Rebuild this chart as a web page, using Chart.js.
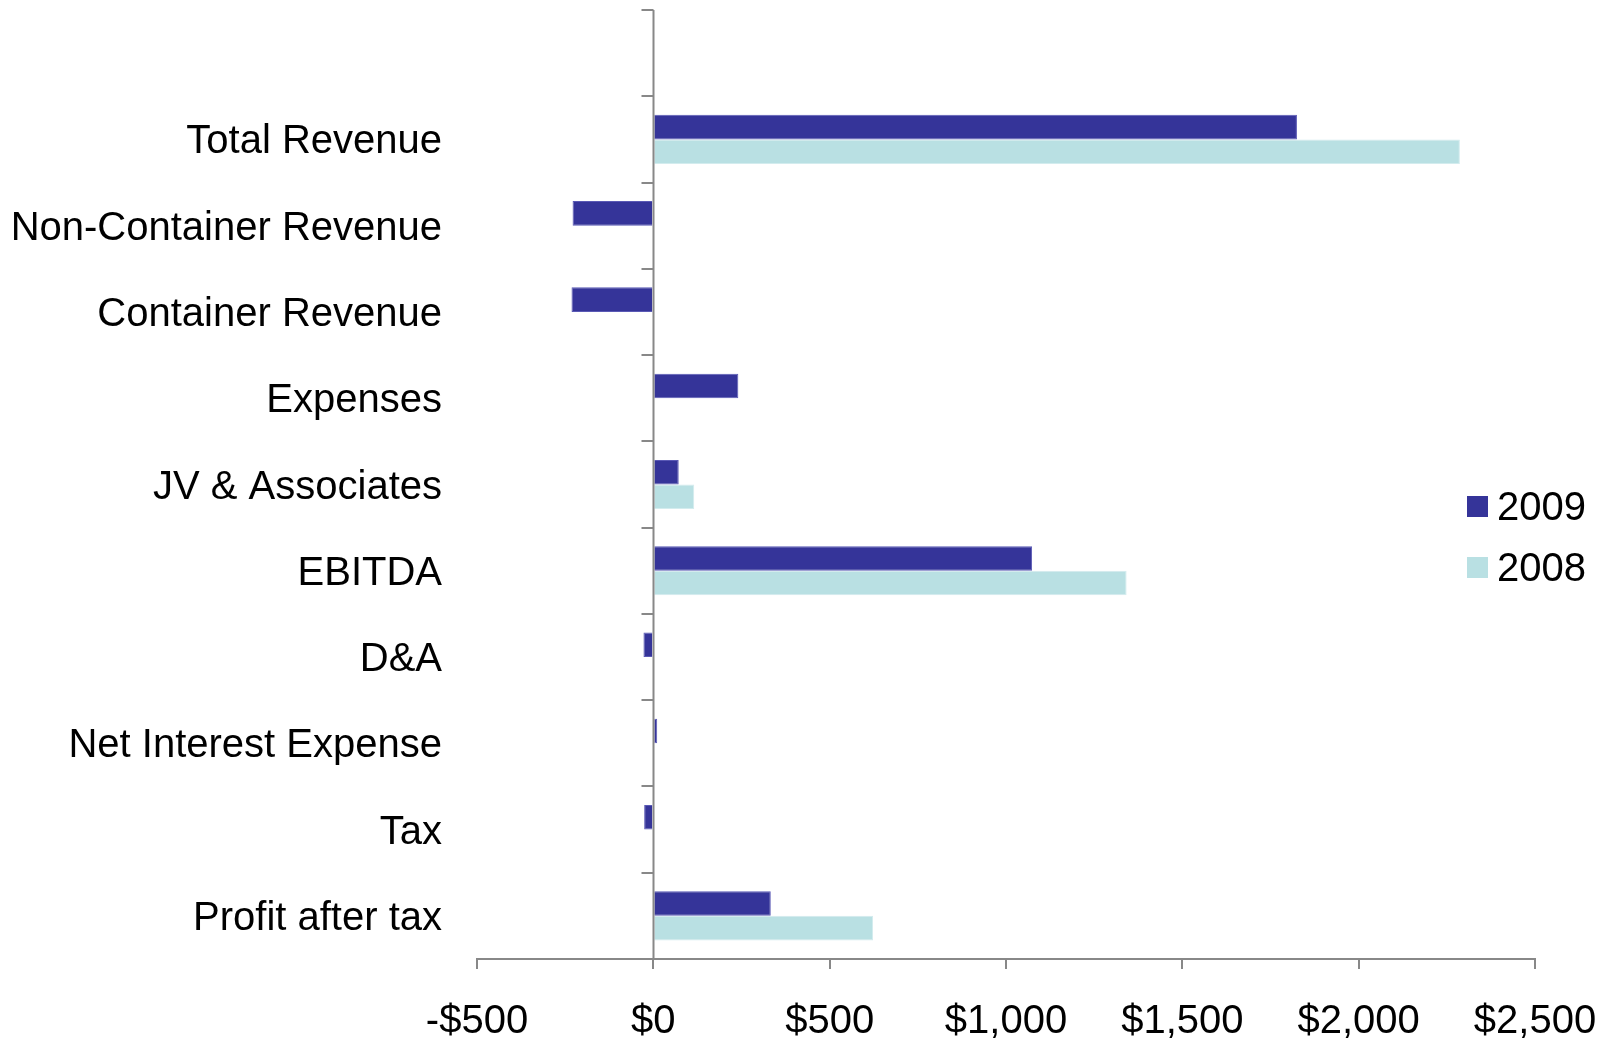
<!DOCTYPE html>
<html>
<head>
<meta charset="utf-8">
<title>Earnings bridge 2009 vs 2008</title>
<script src="https://cdn.jsdelivr.net/npm/chart.js@4.4.1/dist/chart.umd.min.js"></script>
<style>
  html, body { margin: 0; padding: 0; background: #ffffff; }
  #wrap { position: relative; width: 1612px; height: 1040px; }
  #chart { position: absolute; left: 0; top: 0; }
  #legend { position: absolute; left: 1467px; top: 476px; font-family: "Liberation Sans", Arial, sans-serif; font-size: 40px; color: #000; }
  .item { display: flex; align-items: center; height: 61px; }
  .swatch { width: 21px; height: 21px; margin-right: 9px; }
</style>
</head>
<body>
<div id="wrap">
  <canvas id="chart" width="1612" height="1040"></canvas>
  <div id="legend"></div>
</div>
<script>
// Line items, top to bottom (the first slot is left empty above the first bar)
const categories = [
  '',
  'Total Revenue',
  'Non-Container Revenue',
  'Container Revenue',
  'Expenses',
  'JV & Associates',
  'EBITDA',
  'D&A',
  'Net Interest Expense',
  'Tax',
  'Profit after tax'
];

// Values in $ millions
const values2009 = [null, 1825, -229, -232, 241, 72, 1074, -28, 11, -26, 333];
const values2008 = [null, 2287, null, null, null, 116, 1342, null, null, null, 623];

const seriesLabels = ['2009', '2008'];
const seriesColors = ['#353499', '#b9e0e3'];

const axisMin = -500;
const axisMax = 2500;
const axisStep = 500;

const axisGray = '#888888';
const font = { family: '"Liberation Sans", Arial, sans-serif', size: 40 };

function money(v) {
  const s = '$' + Math.abs(v).toLocaleString('en-US');
  return v < 0 ? '-' + s : s;
}

// Category axis drawn at x = 0 with short ticks between the line items
const zeroAxis = {
  id: 'zeroAxis',
  afterDatasetsDraw(chart) {
    const { ctx, scales: { x, y } } = chart;
    const x0 = Math.round(x.getPixelForValue(0)) + 0.5;
    const n = y.ticks.length;
    const half = (y.getPixelForValue(1) - y.getPixelForValue(0)) / 2;
    ctx.save();
    ctx.strokeStyle = axisGray;
    ctx.lineWidth = 2;
    ctx.beginPath();
    ctx.moveTo(x0, y.top);
    ctx.lineTo(x0, y.bottom);
    for (let i = 0; i <= n; i++) {
      const yy = Math.round(y.getPixelForValue(0) - half + i * 2 * half);
      ctx.moveTo(x0, yy);
      ctx.lineTo(x0 - 12, yy);
    }
    ctx.stroke();
    ctx.restore();
  }
};

const chart = new Chart(document.getElementById('chart'), {
  type: 'bar',
  data: {
    labels: categories,
    datasets: [
      { label: seriesLabels[0], data: values2009, backgroundColor: seriesColors[0], borderColor: '#5a59b5', borderWidth: 1 },
      { label: seriesLabels[1], data: values2008, backgroundColor: seriesColors[1], borderColor: '#d3ecee', borderWidth: 1 }
    ]
  },
  options: {
    indexAxis: 'y',
    responsive: false,
    animation: false,
    devicePixelRatio: 1,
    layout: { padding: { top: 10, right: 77, bottom: 0, left: 0 } },
    datasets: { bar: { categoryPercentage: 0.57, barPercentage: 1.0 } },
    plugins: {
      legend: { display: false },
      tooltip: { enabled: false }
    },
    scales: {
      x: {
        min: axisMin,
        max: axisMax,
        ticks: {
          stepSize: axisStep,
          color: '#000',
          font: font,
          padding: 29,
          maxRotation: 0,
          callback: (v) => money(v)
        },
        grid: {
          drawOnChartArea: false,
          tickColor: axisGray,
          tickLength: 10,
          lineWidth: 2
        },
        border: { color: axisGray, width: 2 },
        afterFit(scale) {
          scale.height = 81;
          scale.paddingLeft = 0;
          scale.paddingRight = 0;
        }
      },
      y: {
        ticks: { color: '#000', font: font, padding: 35, labelOffset: 3, autoSkip: false },
        grid: { display: false, drawTicks: false },
        border: { display: false },
        afterFit(scale) {
          scale.width = 477;
          scale.paddingTop = 0;
          scale.paddingBottom = 0;
        }
      }
    }
  },
  plugins: [zeroAxis]
});

// Legend
const legend = document.getElementById('legend');
seriesLabels.forEach((label, i) => {
  const item = document.createElement('div');
  item.className = 'item';
  const sw = document.createElement('span');
  sw.className = 'swatch';
  sw.style.background = seriesColors[i];
  const txt = document.createElement('span');
  txt.textContent = label;
  item.appendChild(sw);
  item.appendChild(txt);
  legend.appendChild(item);
});
</script>
</body>
</html>
